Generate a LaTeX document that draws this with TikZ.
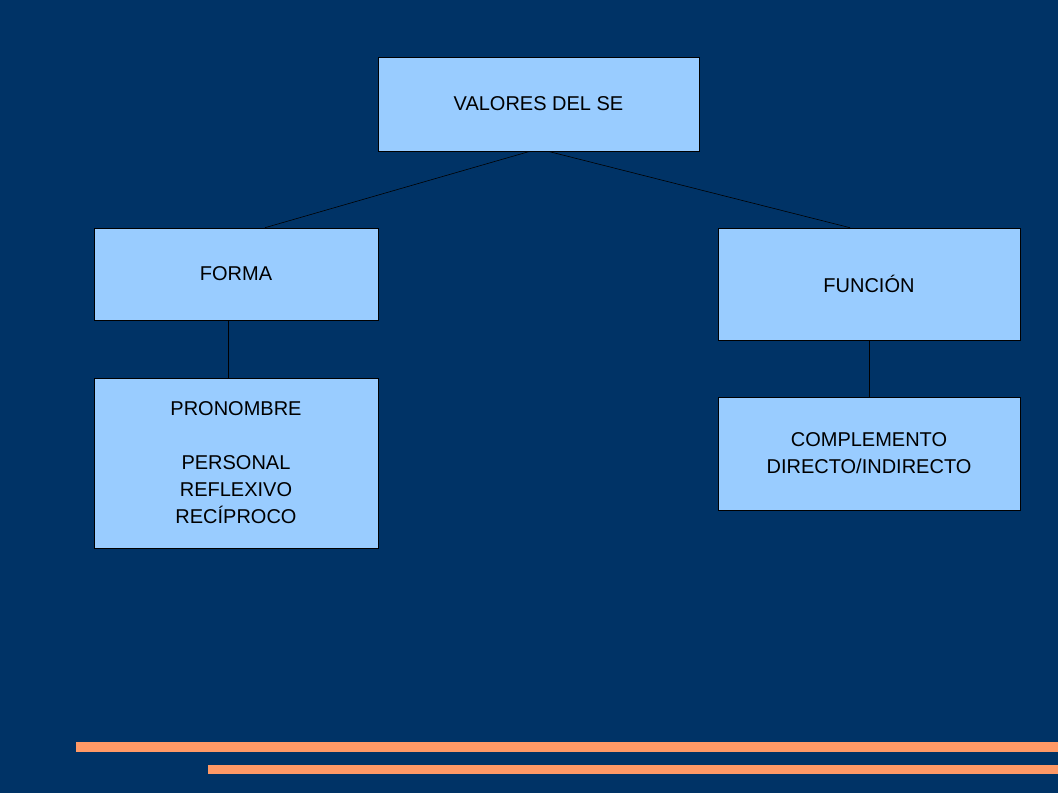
\documentclass[tikz,border=0pt]{standalone}
\usepackage{fontspec}
\setmainfont{Liberation Sans}
\usetikzlibrary{calc}
\definecolor{bg}{HTML}{003366}
\definecolor{boxc}{HTML}{99CCFF}
\definecolor{bar}{HTML}{FF9966}
\begin{document}
\begin{tikzpicture}[x=1pt,y=-1pt,
  box/.style={draw=black,line width=0.6pt,fill=boxc,inner sep=0pt,align=center,font=\fontsize{20}{27}\selectfont},
  conn/.style={draw=black,line width=0.6pt}]
\useasboundingbox (0,0) rectangle (1058,793);
\fill[bg] (0,0) rectangle (1058,793);
\node[box,minimum width=321,minimum height=94] (top) at (538.5,104) {VALORES DEL SE};
\node[box,minimum width=284,minimum height=92] (forma) at (236,274) {\raisebox{0pt}{FORMA}};
\node[box,minimum width=302,minimum height=112] (funcion) at (869,284) {FUNCIÓN};
\node[box,minimum width=284,minimum height=170] (pron) at (236,463) {PRONOMBRE\\[27pt]PERSONAL\\REFLEXIVO\\RECÍPROCO};
\node[box,minimum width=302,minimum height=113] (comp) at (869,453.5) {COMPLEMENTO\\DIRECTO/INDIRECTO};
\draw[conn] ($(top.south)+(-8.5,0)$) -- ($(forma.north)+(29,0)$);
\draw[conn] ($(top.south)+(9.5,0)$) -- ($(funcion.north)+(-19,0)$);
\draw[conn] ($(forma.south)+(-8,0)$) -- ($(pron.north)+(-8,0)$);
\draw[conn] (funcion.south) -- (comp.north);
\fill[bar] (76,742) rectangle (1058,752);
\fill[bar] (208,765) rectangle (1058,774);
\end{tikzpicture}
\end{document}
